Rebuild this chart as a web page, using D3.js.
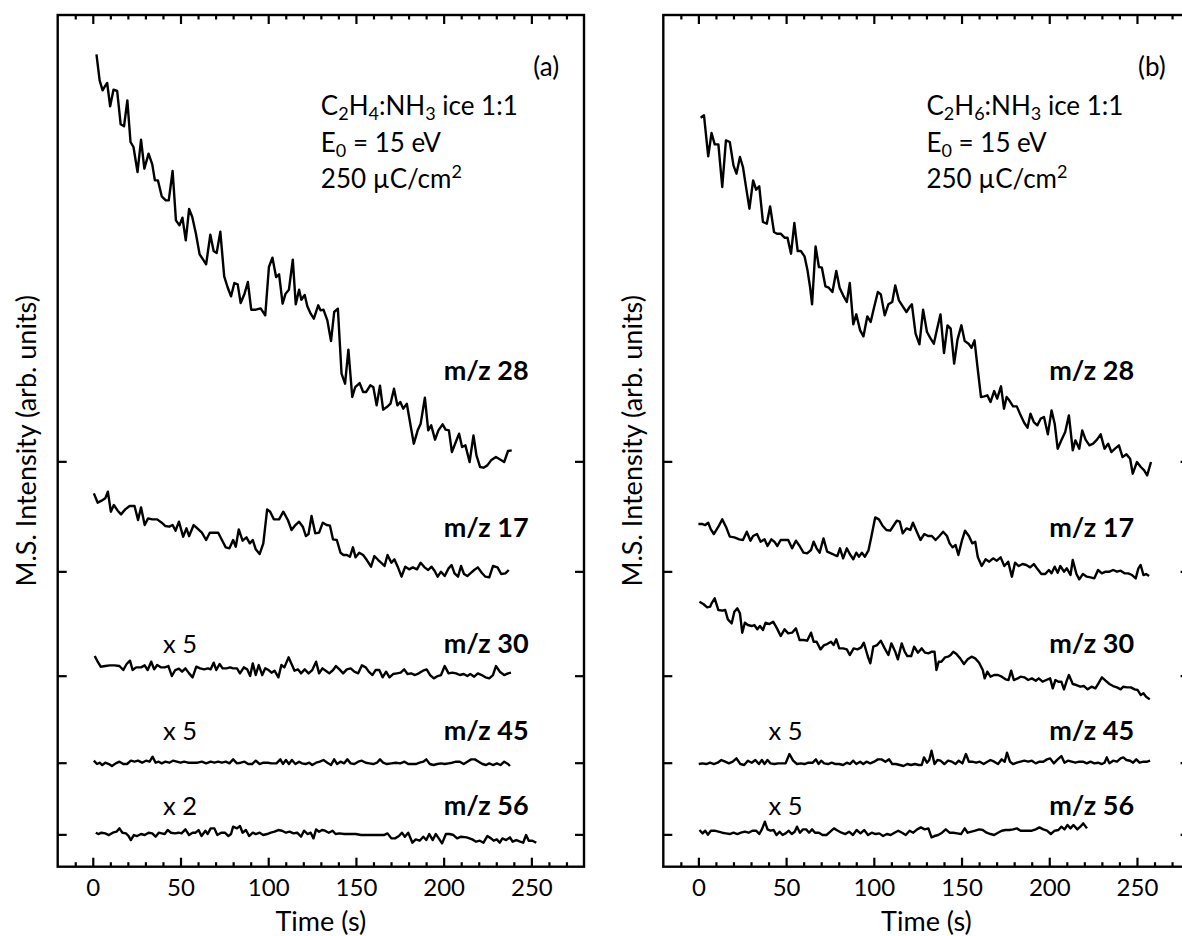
<!DOCTYPE html>
<html>
<head>
<meta charset="utf-8">
<script src="https://cdn.jsdelivr.net/npm/d3@7"></script>
<style>
  body { margin: 0; background: #fff; }
  svg { display: block; font-family: Lato, "Open Sans", sans-serif; }
  .trace { fill: none; stroke: #000; stroke-width: 2.4; stroke-linejoin: round; }
  .frame { fill: none; stroke: #000; stroke-width: 2.4; }
  .tick line { stroke: #000; stroke-width: 2.2; }
  .domain { display: none; }
</style>
</head>
<body>
<svg id="chart" width="1182" height="936"></svg>
<script>
// time axis and trace labels
const timeTicks = [0, 50, 100, 150, 200, 250];
const minorTicks = d3.range(-10, 280, 10).filter(v => v % 50 !== 0);
const traceNames = ["m/z 28", "m/z 17", "m/z 30", "m/z 45", "m/z 56"];
// zero line of each stacked trace (arb. units)
const baselines = [1216, 886, 573, 312, 97];
const gainsA = ["", "", "x 5", "x 5", "x 2"];
const gainsB = ["", "", "", "x 5", "x 5"];

// panel (a): C2H4:NH3 ice, [time (s), intensity above baseline]
const a28 = [[2.1,1221],[3.9,1143],[5.6,1113],[6.7,1123],[8.2,1135],[9.9,1065],[11.8,1115],[13.9,1111],[15.9,1011],[17.8,1005],[19.7,1083],[21.5,958],[23.2,943],[25.5,868],[27.5,965],[29.4,878],[31.8,923],[33.9,891],[35.4,843],[37.1,843],[39.3,795],[41.6,783],[43.3,783],[45.5,871],[47.4,723],[49.4,708],[51.1,731],[53.0,663],[54.9,757],[56.7,733],[58.8,683],[60.9,621],[62.9,605],[64.6,591],[67.0,680],[68.9,631],[70.6,625],[72.7,689],[74.9,555],[76.8,523],[78.8,495],[80.7,535],[82.6,531],[84.3,475],[86.5,503],[88.4,538],[90.3,455],[92.9,455],[95.7,459],[98.3,438],[100.4,583],[102.4,611],[104.5,553],[106.2,561],[108.2,473],[109.9,503],[111.8,515],[114.0,605],[115.7,471],[117.6,515],[118.9,485],[120.8,499],[122.3,465],[124.2,443],[126.0,428],[128.5,468],[129.8,453],[131.5,455],[133.7,423],[135.8,361],[137.6,448],[139.7,458],[141.8,263],[143.8,233],[145.7,335],[147.9,193],[149.6,223],[152.1,235],[154.1,208],[155.8,208],[158.2,228],[159.9,223],[161.8,168],[163.7,227],[165.5,155],[167.6,163],[169.7,173],[171.7,218],[173.6,168],[175.3,178],[177.0,158],[179.0,173],[181.3,103],[183.0,53],[185.2,93],[186.9,113],[189.3,191],[191.2,93],[192.9,108],[195.1,65],[197.0,93],[199.4,111],[201.1,95],[203.0,93],[204.7,28],[206.7,55],[208.8,83],[210.5,43],[212.4,48],[214.8,-2],[217.0,78],[218.7,18],[220.8,-17],[222.7,-19],[224.9,-12],[227.0,3],[229.8,13],[232.4,5],[234.5,-2],[236.7,31],[238.8,33]];
const a17 = [[0.6,234],[2.8,206],[5.0,212],[7.1,219],[8.6,239],[10.3,179],[12.0,199],[14.2,182],[16.1,171],[18.5,186],[21.0,196],[23.8,196],[25.8,154],[27.5,192],[29.6,139],[31.5,159],[33.9,156],[36.7,156],[39.3,146],[41.4,136],[43.6,134],[45.5,139],[47.2,122],[49.1,149],[51.5,104],[53.4,129],[54.9,106],[57.5,139],[59.6,129],[62.2,116],[64.6,94],[66.7,116],[69.3,116],[71.5,116],[73.6,94],[75.8,72],[77.9,69],[80.0,94],[81.5,74],[83.2,126],[85.4,92],[87.6,102],[89.5,84],[91.2,94],[92.9,66],[95.1,52],[97.2,84],[99.4,186],[101.1,179],[103.2,156],[106.2,156],[108.6,179],[111.2,154],[113.3,124],[115.5,139],[117.6,149],[119.7,134],[121.5,106],[123.0,112],[124.7,166],[126.8,114],[129.0,116],[131.1,146],[133.3,139],[135.2,137],[136.9,96],[139.1,94],[141.2,56],[142.9,49],[144.8,49],[146.6,44],[148.3,72],[149.8,42],[151.9,56],[154.1,49],[156.2,34],[158.6,14],[160.5,46],[162.7,34],[164.8,24],[166.3,16],[168.0,49],[170.2,26],[171.9,36],[173.8,14],[176.0,-16],[178.1,14],[180.3,6],[182.4,12],[184.8,6],[186.9,26],[189.1,12],[191.2,4],[193.1,14],[194.8,2],[196.6,-16],[198.5,-1],[200.6,-14],[202.8,9],[204.5,19],[206.2,-6],[208.2,-16],[209.9,16],[211.6,-8],[213.5,-14],[215.2,-6],[217.4,4],[219.5,12],[221.7,-4],[223.8,-16],[226.0,-18],[228.1,16],[230.7,12],[232.8,-8],[235.2,-6],[237.1,4]];
const a30 = [[1.1,59],[2.8,42],[4.5,27],[7.1,29],[9.7,31],[12.4,31],[15.2,29],[17.4,17],[19.3,35],[21.2,45],[22.7,17],[24.7,25],[27.5,25],[29.6,31],[31.3,17],[33.3,42],[35.0,19],[36.7,32],[38.8,25],[41.0,25],[43.1,29],[45.1,-1],[47.0,17],[49.1,21],[50.9,12],[52.8,22],[54.9,7],[56.9,-5],[59.0,27],[61.2,22],[63.5,19],[65.7,22],[67.2,19],[68.9,39],[70.4,17],[72.3,35],[74.0,22],[76.2,22],[78.3,25],[80.0,22],[82.2,22],[83.9,7],[86.1,25],[88.0,19],[89.7,-1],[91.2,37],[92.9,2],[94.6,32],[96.6,2],[98.3,22],[100.2,17],[101.9,9],[103.6,15],[105.8,-5],[107.5,32],[109.2,25],[111.6,55],[113.3,35],[115.0,15],[116.9,19],[118.7,7],[120.8,19],[123.0,7],[125.1,17],[127.3,42],[129.0,7],[130.9,22],[132.8,15],[134.8,7],[137.0,17],[138.6,29],[140.6,19],[142.7,7],[144.8,19],[147.0,22],[149.1,12],[151.3,7],[153.4,31],[155.6,25],[157.3,12],[159.4,2],[161.2,17],[163.3,17],[165.2,-5],[167.2,12],[169.1,-5],[171.2,5],[173.4,7],[175.5,9],[177.5,19],[179.4,5],[181.5,7],[183.7,2],[185.8,7],[188.2,15],[190.3,19],[192.3,2],[194.4,-8],[196.6,-1],[198.5,2],[200.6,29],[202.8,7],[204.9,9],[207.1,7],[209.2,2],[211.4,5],[213.5,-1],[215.2,5],[217.4,-3],[219.5,7],[221.7,2],[223.8,-5],[226.0,-8],[228.1,2],[229.8,29],[232.0,12],[234.5,2],[236.7,7],[238.4,9]];
const a45 = [[0.6,6],[2.4,-4],[3.9,0],[5.4,-7],[7.1,0],[9.2,-4],[10.9,-10],[13.1,-2],[15.2,3],[17.4,-4],[19.5,-4],[21.7,6],[23.8,3],[25.8,6],[28.1,0],[30.3,6],[32.4,3],[34.1,18],[35.8,0],[37.6,3],[39.3,-2],[41.4,3],[43.6,0],[45.7,6],[47.9,3],[50.0,0],[52.1,3],[54.3,0],[56.9,0],[59.7,0],[62.2,3],[64.6,-2],[67.2,3],[69.3,0],[71.5,3],[73.6,0],[75.8,3],[77.9,-2],[80.0,10],[82.2,-2],[84.3,0],[86.5,3],[88.6,-4],[90.8,-4],[92.9,6],[95.1,-4],[97.2,0],[99.8,0],[101.9,-2],[104.7,-2],[106.9,10],[108.4,-4],[110.1,8],[111.8,-4],[113.5,8],[115.5,-4],[117.6,3],[119.3,-2],[121.2,-4],[123.4,0],[125.1,-7],[127.3,0],[129.4,3],[131.5,8],[133.7,0],[135.8,-7],[137.6,10],[139.3,-4],[141.2,3],[143.3,-2],[145.1,10],[147.0,-2],[149.1,-4],[151.3,3],[153.4,6],[155.6,0],[157.7,-2],[159.9,-4],[162.0,0],[163.7,10],[165.5,0],[167.6,-4],[170.2,-2],[172.7,0],[175.3,-2],[177.7,3],[179.8,-4],[181.9,-4],[184.1,-4],[186.3,0],[188.4,3],[190.1,10],[192.1,-4],[194.2,-7],[196.4,-4],[198.5,-2],[200.6,-4],[202.8,-2],[204.9,0],[207.1,3],[209.2,3],[211.4,-4],[213.5,3],[215.7,10],[217.8,10],[220.0,3],[222.1,-4],[224.2,-7],[226.0,-2],[228.1,-7],[230.3,-2],[232.4,-7],[234.5,3],[236.7,-4],[237.8,-10]];
const a56 = [[1.7,5],[3.2,1],[4.9,5],[7.1,3],[9.2,-2],[11.4,5],[13.5,8],[15.2,18],[16.9,5],[18.9,3],[20.4,-5],[21.7,-17],[23.4,-2],[25.3,-5],[27.5,1],[29.6,-2],[31.8,5],[33.9,3],[35.8,-7],[37.6,5],[39.3,3],[41.0,1],[42.7,13],[44.6,5],[46.8,3],[48.9,5],[50.6,3],[52.8,15],[54.9,-2],[56.9,5],[58.6,5],[60.3,13],[62.0,-5],[64.2,11],[65.5,1],[67.2,18],[69.3,18],[71.0,-2],[73.2,5],[75.3,5],[77.3,-5],[78.8,1],[80.0,23],[82.2,18],[83.9,25],[85.4,5],[87.3,13],[89.1,-5],[91.2,5],[92.9,1],[95.1,5],[97.2,-2],[99.4,1],[101.5,5],[103.6,8],[105.8,13],[107.9,11],[110.1,5],[112.2,8],[114.4,3],[116.5,5],[118.7,-7],[120.4,11],[122.5,1],[124.2,5],[125.8,-12],[127.3,15],[129.0,8],[130.7,13],[132.4,11],[134.5,5],[136.7,11],[138.4,1],[140.6,3],[143.3,1],[146.6,1],[149.8,1],[153.0,-2],[156.2,-2],[159.4,-2],[162.7,-2],[165.9,-2],[168.0,3],[170.2,-12],[172.3,-12],[174.5,-5],[176.2,5],[177.9,-7],[179.8,5],[182.2,-25],[184.1,-15],[186.3,-19],[188.4,-7],[190.1,-17],[191.8,1],[193.8,-17],[195.5,1],[197.2,-12],[199.1,-27],[201.3,1],[203.4,1],[205.6,-2],[207.7,-12],[209.9,-7],[213.1,-9],[216.3,-15],[218.5,-22],[220.6,-19],[222.7,-25],[224.9,-5],[227.0,-12],[228.5,-19],[230.3,-15],[232.0,-25],[233.5,-12],[235.6,-17],[237.8,-9],[239.3,-22],[241.4,-17],[243.6,-22],[245.3,-25],[247.0,-2],[248.5,-19],[250.6,-19],[252.8,-25]];

// panel (b): C2H6:NH3 ice
const b28 = [[1.3,1031],[3.2,1038],[5.6,915],[7.5,985],[9.3,951],[11.4,951],[13.6,823],[15.7,963],[17.9,958],[20.0,888],[21.7,863],[23.7,913],[25.4,883],[27.1,825],[29.1,758],[31.2,843],[32.9,815],[34.7,825],[36.8,718],[39.0,713],[40.9,765],[43.1,688],[44.8,683],[46.9,683],[49.1,671],[50.8,671],[52.8,623],[54.7,715],[56.6,631],[58.4,631],[60.5,615],[62.2,573],[63.7,521],[64.8,471],[66.8,645],[68.7,583],[70.4,581],[72.4,525],[74.3,521],[76.4,508],[78.6,571],[80.5,521],[82.5,498],[84.6,478],[86.3,535],[88.3,411],[90.0,441],[92.2,393],[94.1,375],[96.3,435],[98.2,418],[100.2,463],[102.3,508],[104.0,501],[106.2,438],[108.3,471],[110.5,478],[112.2,528],[114.3,483],[116.5,465],[118.6,448],[120.4,463],[121.7,471],[123.8,383],[126.0,351],[128.1,455],[130.3,388],[132.4,368],[134.2,353],[135.9,393],[138.0,441],[140.0,325],[142.0,408],[143.8,398],[145.8,293],[147.7,365],[149.9,408],[151.8,361],[154.0,353],[155.7,341],[157.4,363],[159.1,283],[161.1,193],[163.0,195],[164.7,198],[166.5,178],[168.6,211],[170.3,188],[172.5,225],[174.2,158],[175.7,193],[177.2,183],[179.4,165],[181.5,165],[183.7,138],[185.8,115],[187.6,101],[189.3,143],[191.2,118],[193.2,108],[195.1,128],[197.0,133],[199.2,81],[201.3,153],[203.1,113],[204.8,38],[206.9,63],[209.1,88],[211.2,138],[213.4,33],[214.9,63],[217.1,38],[218.8,93],[220.7,65],[222.9,48],[225.0,53],[227.2,65],[229.3,81],[231.5,38],[233.6,53],[235.4,28],[237.5,38],[239.7,48],[241.8,13],[244.0,21],[246.1,8],[247.6,-37],[250.0,-2],[252.2,-17],[254.1,-27],[255.8,-42],[258.0,-2]];
const b17 = [[0,142],[2.4,142],[3.9,139],[5.6,146],[7.1,126],[8.8,112],[11.4,134],[13.6,156],[15.7,134],[17.9,104],[20.5,102],[23.3,96],[25.4,94],[27.6,119],[29.7,92],[31.2,106],[33.4,112],[35.5,89],[37.7,96],[39.4,76],[41.6,96],[43.3,89],[45.0,76],[46.9,94],[49.1,94],[51.2,94],[53.4,69],[55.6,92],[57.7,76],[59.9,56],[62.0,54],[64.2,64],[65.7,89],[67.4,69],[69.1,56],[71.3,99],[73.4,59],[75.6,54],[77.7,49],[79.2,46],[80.7,69],[82.5,39],[84.6,69],[86.3,52],[88.3,36],[90.0,56],[91.5,44],[93.2,56],[94.9,44],[96.9,62],[98.6,104],[100.8,162],[102.9,156],[105.1,136],[107.2,124],[109.4,122],[111.1,136],[113.1,152],[114.8,149],[116.5,114],[118.7,129],[120.8,124],[122.3,146],[124.5,119],[126.6,94],[128.8,112],[130.9,106],[133.1,106],[135.2,94],[137.4,106],[139.5,119],[141.7,106],[143.2,84],[144.9,72],[146.6,79],[148.2,49],[150.3,94],[152.0,122],[154.2,106],[156.1,84],[157.8,89],[159.3,42],[161.5,16],[163.7,36],[165.8,29],[168.0,39],[170.1,32],[172.3,42],[174.4,16],[176.6,29],[178.7,-16],[180.5,26],[182.6,16],[184.8,22],[186.9,19],[189.1,12],[191.2,22],[193.4,6],[195.5,-8],[197.7,-8],[199.8,4],[201.3,-6],[203.1,14],[204.8,-4],[206.3,16],[208.4,-1],[210.0,9],[212.1,-11],[213.4,34],[215.5,-8],[217.1,-24],[219.2,-8],[221.4,-16],[223.5,-18],[225.7,-21],[227.8,4],[230.0,-6],[232.1,-1],[234.3,-1],[236.4,4],[238.6,-1],[240.7,2],[242.9,-6],[245.0,-6],[247.2,-11],[249.3,-21],[250.8,9],[252.1,19],[253.7,-11],[255.2,-8],[256.9,-14]];
const b30 = [[0.6,222],[2.8,215],[5.0,205],[6.7,207],[7.5,217],[9.3,232],[11.4,197],[13.6,195],[15.3,197],[16.8,169],[19.0,157],[20.5,192],[22.2,202],[23.7,187],[25.0,129],[26.5,159],[28.2,152],[30.4,149],[31.9,152],[33.6,139],[35.1,149],[36.8,137],[38.3,159],[40.5,155],[42.6,162],[44.8,142],[46.9,119],[49.1,139],[51.2,127],[53.4,129],[55.6,142],[57.7,107],[59.9,107],[62.0,105],[64.2,129],[65.7,102],[67.4,102],[69.6,79],[71.7,92],[73.4,95],[75.6,102],[77.1,92],[78.6,109],[80.3,82],[82.5,82],[84.6,79],[86.3,62],[88.5,82],[90.7,79],[92.8,85],[94.3,99],[96.5,59],[98.0,37],[99.7,87],[101.9,92],[104.0,105],[106.2,82],[108.3,62],[110.0,97],[112.2,72],[113.7,49],[115.9,97],[117.6,72],[119.1,59],[121.3,59],[123.0,87],[125.1,69],[127.3,82],[129.2,69],[131.1,67],[133.1,72],[134.6,72],[135.7,17],[137.0,42],[138.5,42],[140.6,55],[142.3,57],[143.8,62],[145.3,72],[147.1,65],[149.2,52],[151.4,35],[153.5,49],[155.7,57],[157.8,52],[160.0,39],[162.1,17],[163.2,-8],[164.7,12],[166.5,-3],[168.6,2],[170.8,2],[172.9,-3],[175.1,-11],[176.8,-13],[178.3,15],[179.8,-13],[182.0,-8],[183.7,-3],[185.8,-5],[188.0,-13],[190.1,-8],[192.3,-15],[194.0,-8],[196.2,-18],[198.3,-13],[200.5,-8],[202.0,-38],[203.5,-13],[205.2,-18],[206.9,-18],[208.4,-41],[210.0,-15],[211.2,2],[213.4,-25],[215.5,-28],[217.7,-33],[219.8,-31],[221.9,-41],[224.1,-33],[226.3,-38],[227.8,-25],[230.0,-5],[232.1,-15],[234.3,-25],[236.4,-31],[238.6,-35],[240.7,-41],[242.2,-33],[244.4,-35],[246.5,-35],[248.7,-41],[250.4,-43],[252.2,-58],[253.7,-53],[255.2,-63],[257.3,-71]];
const b45 = [[0.2,-4],[2.4,-2],[4.5,-4],[6.7,0],[8.8,-4],[11.0,0],[13.1,8],[15.3,3],[17.4,-2],[19.6,3],[21.7,13],[23.9,-4],[26.1,-7],[28.2,6],[30.4,0],[32.5,8],[34.5,-4],[36.2,8],[37.7,-4],[39.4,8],[41.1,-2],[43.3,-4],[45.4,-2],[47.6,-2],[49.7,-2],[51.9,26],[54.0,6],[56.2,-4],[58.4,-2],[60.5,-4],[62.7,0],[65.2,0],[67.0,10],[68.5,-4],[70.0,6],[71.7,-2],[73.9,-4],[76.0,0],[78.2,-4],[80.3,-4],[82.5,-7],[84.6,0],[86.3,-4],[88.3,6],[90.0,-4],[92.2,3],[94.0,-4],[95.8,3],[98.0,-2],[100.2,3],[102.3,10],[104.4,10],[106.6,3],[108.7,10],[110.5,-4],[112.6,-4],[114.8,-7],[116.9,-10],[119.1,-4],[121.3,-7],[123.4,-4],[125.6,-7],[127.3,-7],[128.6,16],[130.3,0],[131.6,8],[132.9,36],[134.6,-4],[136.3,8],[138.0,6],[140.2,-4],[142.3,6],[144.5,3],[146.6,-4],[148.4,6],[150.5,-2],[152.5,26],[154.2,3],[156.1,3],[158.3,0],[160.4,3],[162.6,-4],[164.7,3],[166.5,8],[168.6,3],[170.8,-4],[172.9,10],[174.6,3],[175.9,30],[177.6,3],[179.4,-4],[181.5,0],[183.7,3],[185.8,6],[188.0,3],[190.1,6],[192.3,-2],[194.4,3],[196.6,3],[198.7,10],[200.5,13],[202.6,-2],[204.8,10],[206.9,20],[208.7,0],[210.6,6],[212.8,3],[214.9,0],[217.1,3],[219.2,3],[221.4,-2],[223.5,3],[225.7,-2],[227.8,0],[230.0,-4],[231.5,0],[232.8,16],[234.3,-2],[236.4,6],[238.6,3],[240.7,13],[242.2,16],[244.0,8],[246.1,6],[247.8,0],[249.6,10],[251.5,0],[253.7,3],[255.8,3],[257.5,6]];
const b56 = [[0.6,13],[2.4,3],[3.9,11],[5.4,-1],[7.1,11],[9.3,11],[11.4,8],[13.6,5],[15.7,3],[17.9,1],[20.0,5],[22.2,1],[24.3,5],[26.5,8],[28.6,5],[30.8,11],[32.9,11],[34.7,1],[36.2,15],[37.9,38],[39.4,15],[41.1,11],[42.9,13],[44.6,-2],[46.3,8],[48.0,-2],[49.7,3],[51.5,11],[53.2,1],[54.9,8],[56.2,23],[57.9,5],[59.6,15],[61.4,15],[63.1,5],[64.8,15],[66.5,5],[68.7,5],[70.8,-2],[73.0,-2],[75.2,8],[77.3,18],[79.5,11],[81.6,5],[83.8,1],[85.9,8],[88.1,-2],[90.2,13],[92.4,3],[94.5,13],[96.7,-2],[98.8,5],[101.0,1],[103.1,3],[105.3,-5],[107.4,1],[109.6,-2],[111.8,5],[113.9,11],[116.1,5],[118.2,-2],[120.4,11],[122.5,5],[124.7,15],[126.8,21],[129.0,15],[131.1,18],[132.9,-9],[134.6,-5],[136.7,-2],[138.9,5],[141.0,15],[143.2,5],[145.3,5],[147.5,3],[149.7,1],[151.8,18],[153.5,5],[155.7,8],[157.8,11],[160.0,15],[162.1,13],[164.3,5],[166.5,1],[168.6,-2],[170.8,5],[172.9,11],[175.1,13],[177.2,13],[179.4,15],[181.5,18],[183.7,11],[185.8,11],[188.0,11],[190.1,11],[192.3,15],[194.4,21],[196.6,15],[198.7,11],[200.9,1],[203.1,11],[205.2,13],[206.9,23],[208.7,15],[210.4,28],[212.1,18],[213.8,28],[216.0,15],[217.7,23],[219.4,33],[221.5,18]];

const panels = [
  { id: "a", left: 57.7, traces: [a28, a17, a30, a45, a56], gains: gainsA,
    sample: [["C",0],["2",1],["H",0],["4",1],[":NH",0],["3",1],[" ice 1:1",0]] },
  { id: "b", left: 663.3, traces: [b28, b17, b30, b45, b56], gains: gainsB,
    sample: [["C",0],["2",1],["H",0],["6",1],[":NH",0],["3",1],[" ice 1:1",0]] }
];

const plotW = 526.3, plotTop = 15, plotBottom = 866.7;
const labelLift = [81, 34, 23, 23, 19];
const noteSize = 26, subSize = 18;

const svg = d3.select("#chart");
const y = d3.scaleLinear().domain([0, 2555]).range([plotBottom, plotTop]);

panels.forEach(p => {
  const x = d3.scaleLinear().domain([-20, 280]).range([p.left, p.left + plotW]);
  const g = svg.append("g");

  // ticks, all pointing inward
  g.append("g").attr("transform", `translate(0,${plotBottom})`)
    .call(d3.axisBottom(x).tickValues(timeTicks).tickSizeInner(-9).tickSizeOuter(0).tickPadding(12))
    .call(s => s.selectAll("text").attr("font-size", 24).attr("font-family", "Lato"));
  g.append("g").attr("transform", `translate(0,${plotBottom})`)
    .call(d3.axisBottom(x).tickValues(minorTicks).tickSize(-4.5).tickFormat(""));
  g.append("g").attr("transform", `translate(0,${plotTop})`)
    .call(d3.axisTop(x).tickValues(timeTicks).tickSize(-9).tickFormat(""));
  g.append("g").attr("transform", `translate(0,${plotTop})`)
    .call(d3.axisTop(x).tickValues(minorTicks).tickSize(-4.5).tickFormat(""));
  g.append("g").attr("transform", `translate(${p.left},0)`)
    .call(d3.axisLeft(y).tickValues(baselines).tickSize(-9).tickFormat(""));
  g.append("g").attr("transform", `translate(${p.left + plotW},0)`)
    .call(d3.axisRight(y).tickValues(baselines).tickSize(-9).tickFormat(""));

  g.append("rect").attr("class", "frame")
    .attr("x", p.left).attr("y", plotTop).attr("width", plotW).attr("height", plotBottom - plotTop);

  // traces
  p.traces.forEach((data, i) => {
    const line = d3.line().x(d => x(d[0])).y(d => y(d[1] + baselines[i]));
    g.append("path").datum(data).attr("class", "trace").attr("d", line);

    const ly = y(baselines[i]) - labelLift[i];
    g.append("text").attr("x", x(200)).attr("y", ly)
      .attr("font-size", 27).attr("font-weight", "bold").text(traceNames[i]);
    if (p.gains[i]) {
      g.append("text").attr("x", x(40)).attr("y", ly)
        .attr("font-size", 25.5).text(p.gains[i]);
    }
  });

  // sample annotation
  const note = g.append("g").attr("font-size", noteSize);
  const t1 = note.append("text").attr("x", x(130)).attr("y", 115);
  p.sample.forEach(([s, sub], k) => {
    const prevSub = k > 0 && p.sample[k - 1][1];
    t1.append("tspan").attr("font-size", sub ? subSize : noteSize)
      .attr("dy", sub ? 5 : (prevSub ? -5 : 0)).text(s);
  });
  const t2 = note.append("text").attr("x", x(130)).attr("y", 152);
  t2.append("tspan").text("E");
  t2.append("tspan").attr("font-size", subSize).attr("dy", 5).text("0");
  t2.append("tspan").attr("dy", -5).text(" = 15 eV");
  const t3 = note.append("text").attr("x", x(130)).attr("y", 188);
  t3.append("tspan").text("250 \u00B5C/cm");
  t3.append("tspan").attr("font-size", subSize).attr("dy", -10).text("2");

  g.append("text").attr("x", x(258.5)).attr("y", 76).attr("text-anchor", "middle")
    .attr("font-size", 26).text(`(${p.id})`);

  // axis titles
  g.append("text").attr("x", x(130)).attr("y", 931).attr("text-anchor", "middle")
    .attr("font-size", 27).text("Time (s)");
  g.append("text")
    .attr("transform", `translate(${p.left - 31},${(plotTop + plotBottom) / 2}) rotate(-90)`)
    .attr("dy", "0.35em").attr("text-anchor", "middle")
    .attr("font-size", 27).text("M.S. Intensity (arb. units)");
});
</script>
</body>
</html>
